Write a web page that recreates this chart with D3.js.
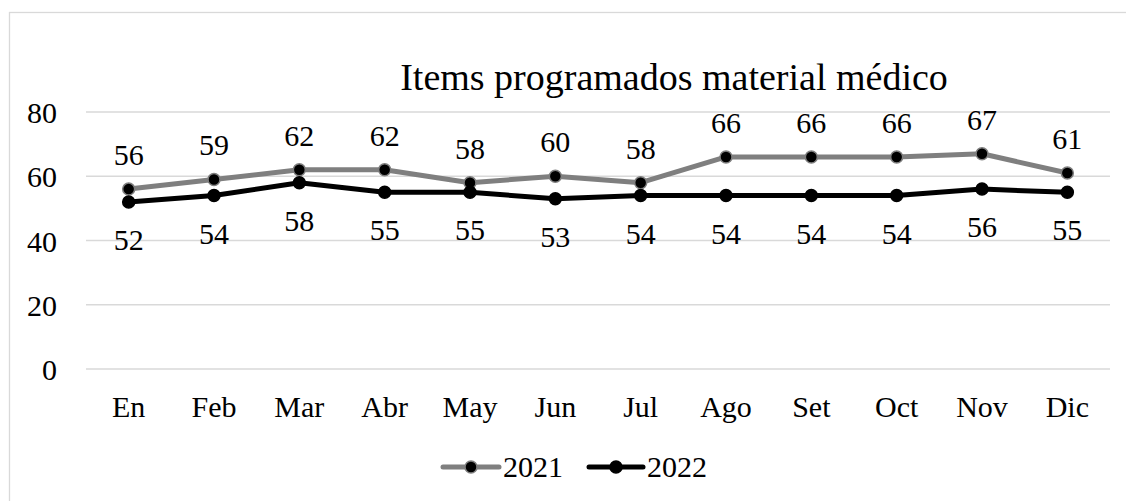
<!DOCTYPE html>
<html>
<head>
<meta charset="utf-8">
<script src="https://cdn.jsdelivr.net/npm/d3@7"></script>
<style>
  html, body { margin: 0; padding: 0; background: #fff; }
  svg { display: block; }
  svg text { font-family: "Liberation Serif", "Times New Roman", serif; }
</style>
</head>
<body>
<svg id="chart" width="1126" height="501"></svg>
<script>
// Monthly count of programmed medical-supply items, 2021 vs 2022
const months = ["En", "Feb", "Mar", "Abr", "May", "Jun", "Jul", "Ago", "Set", "Oct", "Nov", "Dic"];
const values2021 = [56, 59, 62, 62, 58, 60, 58, 66, 66, 66, 67, 61];
const values2022 = [52, 54, 58, 55, 55, 53, 54, 54, 54, 54, 56, 55];
const yTicks = [0, 20, 40, 60, 80];
const seriesNames = ["2021", "2022"];
const chartTitle = "Items programados material médico";

const FONT = "'Liberation Serif', 'Times New Roman', serif";

const series = [
  { name: seriesNames[0], values: values2021, color: "#7f7f7f", labelPos: "above" },
  { name: seriesNames[1], values: values2022, color: "#000000", labelPos: "below" }
];

const svg = d3.select("#chart");
const plot = { left: 86, right: 1110, top: 112, bottom: 369 };

// outer chart frame
svg.append("rect")
  .attr("x", 9.5).attr("y", 12.5)
  .attr("width", 1130).attr("height", 520)
  .attr("fill", "#fff").attr("stroke", "#d9d9d9").attr("stroke-width", 1.3);

const x = d3.scaleBand().domain(months).range([plot.left, plot.right]);
const y = d3.scaleLinear().domain([0, 80]).range([plot.bottom, plot.top]);

// horizontal gridlines
svg.append("g").selectAll("line").data(yTicks).join("line")
  .attr("x1", plot.left).attr("x2", plot.right)
  .attr("y1", d => y(d)).attr("y2", d => y(d))
  .attr("stroke", "#d9d9d9").attr("stroke-width", 1.3);

// y axis labels
const yAxis = svg.append("g")
  .attr("transform", `translate(${plot.left - 29},0)`)
  .call(d3.axisLeft(y).tickValues(yTicks).tickSize(0).tickPadding(0))
  .attr("font-family", FONT).attr("font-size", 30);
yAxis.select(".domain").remove();
yAxis.selectAll("text")
  .attr("font-size", 30).attr("fill", "#000").attr("dy", "0.35em");

// x axis labels
const xAxis = svg.append("g")
  .attr("transform", `translate(0,${plot.bottom})`)
  .call(d3.axisBottom(x).tickSize(0).tickPadding(0))
  .attr("font-family", FONT).attr("font-size", 30);
xAxis.select(".domain").remove();
xAxis.selectAll("text")
  .attr("font-size", 30).attr("fill", "#000")
  .attr("y", 48).attr("dy", 0);

// title
svg.append("text")
  .attr("x", 674).attr("y", 90)
  .attr("text-anchor", "middle")
  .attr("font-size", 38).attr("fill", "#000")
  .text(chartTitle);

const cx = m => x(m) + x.bandwidth() / 2;
const line = d3.line().x((d, i) => cx(months[i])).y(d => y(d));

// series lines and markers (2021 drawn first, 2022 on top)
series.forEach(s => {
  const g = svg.append("g");
  g.append("path")
    .datum(s.values)
    .attr("d", line)
    .attr("fill", "none")
    .attr("stroke", s.color)
    .attr("stroke-width", 5)
    .attr("stroke-linejoin", "round");
  g.selectAll("circle").data(s.values).join("circle")
    .attr("cx", (d, i) => cx(months[i]))
    .attr("cy", d => y(d))
    .attr("r", 6)
    .attr("fill", "#000")
    .attr("stroke", s.color)
    .attr("stroke-width", 1.5);
});

// value labels: 2021 above its points, 2022 below
series.forEach(s => {
  svg.append("g").selectAll("text").data(s.values).join("text")
    .attr("x", (d, i) => cx(months[i]))
    .attr("y", d => s.labelPos === "above" ? y(d) - 24 : y(d) + 48)
    .attr("text-anchor", "middle")
    .attr("font-size", 30).attr("fill", "#000")
    .text(d => d);
});

// legend
const legendItems = [
  { s: series[0], x0: 443, x1: 499 },
  { s: series[1], x0: 589, x1: 643 }
];
const ly = 467;
legendItems.forEach(it => {
  const g = svg.append("g");
  g.append("line")
    .attr("x1", it.x0).attr("x2", it.x1)
    .attr("y1", ly).attr("y2", ly)
    .attr("stroke", it.s.color).attr("stroke-width", 5)
    .attr("stroke-linecap", "round");
  g.append("circle")
    .attr("cx", (it.x0 + it.x1) / 2).attr("cy", ly).attr("r", 6)
    .attr("fill", "#000").attr("stroke", it.s.color).attr("stroke-width", 1.5);
  g.append("text")
    .attr("x", it.x1 + 4).attr("y", ly + 10)
    .attr("font-size", 30).attr("fill", "#000")
    .text(it.s.name);
});
</script>
</body>
</html>
